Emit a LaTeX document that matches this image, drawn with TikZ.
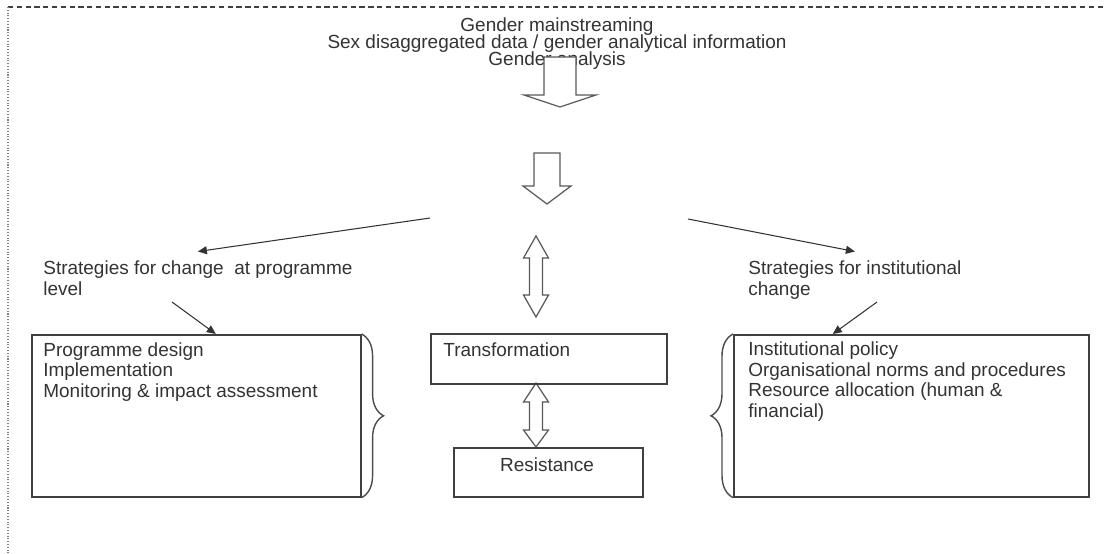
\documentclass[tikz,border=0pt]{standalone}
\usepackage{fontspec}
\setmainfont{Liberation Sans}
\usetikzlibrary{arrows.meta,positioning,calc,decorations.pathreplacing}

\begin{document}
\begin{tikzpicture}[
  x=0.2mm, y=-0.2mm,
  font=\fontsize{10.8}{11.6}\selectfont,
  text=black!80,
  txt/.style={align=left, inner xsep=0pt, inner ysep=0pt, anchor=base west},
  strat/.style={align=left, inner xsep=0pt, inner ysep=1.8mm, anchor=base west},
  bigbox/.style={draw=black!75, line width=0.9pt, anchor=north west, inner sep=0pt},
  blk/.style={draw=black!65, fill=white, line width=0.7pt, line join=miter},
  ar/.style={-{Triangle[length=1.8mm, width=1.6mm]}, draw=black!80, line width=0.6pt},
  br/.style={draw=black!70, line width=0.8pt, decorate, decoration={brace, amplitude=4.4mm}},
]
\useasboundingbox (0,0) rectangle (1104,553);
% page frame
\draw[densely dashed, black!75, line width=0.8pt] (8,7) -- (1104,7);
\draw[densely dotted, black!50, line width=0.6pt] (8,7) -- (8,553);

% heading (base = last line)
\node[align=center, inner sep=0pt, anchor=base,
  font={\fontsize{10.8}{9.6}\selectfont\lineskiplimit=-20pt}] (head) at (557,65)
  {Gender mainstreaming\\Sex disaggregated data / gender analytical information\\Gender analysis};

% block arrows
\draw[blk] (544,57) -- (576,57) -- (576,95) -- (596,95) -- (560,107) -- (524,95) -- (544,95) -- cycle;
\draw[blk] (534,153) -- (560,153) -- (560,186) -- (571,186) -- (547,204) -- (523,186) -- (534,186) -- cycle;
\foreach \t/\a/\b/\e in {236/258/295/317, 383/402/430/447}
  \draw[blk] (536,\t) -- (548.5,\a) -- (542.5,\a) -- (542.5,\b) -- (548.5,\b) -- (536,\e)
    -- (523.5,\b) -- (529.5,\b) -- (529.5,\a) -- (523.5,\a) -- cycle;

% strategy labels
\node[strat] (progtxt) at (43,295) {Strategies for change \ at programme\\level};
\node[strat] (insttxt) at (748,295) {Strategies for institutional\\change};

% boxes
\node[bigbox, minimum width=65.8mm, minimum height=32.4mm] (progbox) at (31,334) {};
\node[bigbox, minimum width=71mm, minimum height=32.4mm] (insbox) at (733,334) {};
\node[bigbox, minimum width=47.2mm, minimum height=10mm] (trans) at (430,333) {};
\node[bigbox, minimum width=37.8mm, minimum height=9.8mm] (res) at (453,447) {};

\node[txt] (progitems) at (43,397) {Programme design\\Implementation\\Monitoring \& impact assessment};
\node[txt] (insitems) at (748,417) {Institutional policy\\Organisational norms and procedures\\Resource allocation (human \&\\financial)};
\node[txt] (translbl) at (443,356) {Transformation};
\node[txt, anchor=base] (reslbl) at (547,471) {Resistance};

% braces
\draw[br] (progbox.north east) -- (progbox.south east);
\draw[br] (insbox.south west) -- (insbox.north west);

% arrows
\coordinate (lstart) at (430,218);
\coordinate (rstart) at (688,219);
\coordinate (pstart) at (172,302);
\coordinate (istart) at (877,302);
\draw[ar] (lstart) -- (progtxt.north);
\draw[ar] (rstart) -- (insttxt.north);
\draw[ar] (pstart) -- ([xshift=3.9mm]progbox.north);
\draw[ar] (istart) -- ([xshift=-15.7mm]insbox.north);
\end{tikzpicture}
\end{document}
